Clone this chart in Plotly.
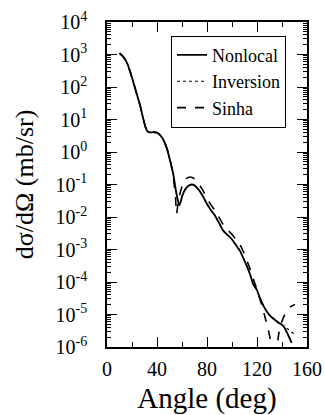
import plotly.graph_objects as go

# Nonlocal (solid)
ang_nl = [10, 13, 16, 19, 21.3, 24, 26.7, 29, 30.7, 32, 33.4, 35, 37, 40, 42.5, 45.3, 48, 50.4, 53, 55, 56.5, 57.9,
          59, 60.5, 62.5, 65, 67.7, 70, 73, 76.5, 80, 83, 86.4, 90, 93, 96, 99.7, 103, 106.4, 109, 111.7, 114.5, 117,
          119.7, 122, 124.5, 127.7, 130, 132.5, 135.7, 137.5, 139.7, 142, 145, 147.7]
val_nl = [1100, 850, 550, 260, 130, 58, 25, 10.5, 6.0, 4.5, 4.1, 4.0, 4.1, 3.9, 3.3, 2.3, 1.25, 0.56, 0.21, 0.07, 0.035, 0.023,
          0.03, 0.048, 0.07, 0.09, 0.1, 0.094, 0.072, 0.045, 0.025, 0.0165, 0.011, 0.0062, 0.0038, 0.0029, 0.0021, 0.0014,
          0.00091, 0.00055, 0.00032, 0.00017, 8.5e-5, 5.9e-5, 3.5e-5, 2.1e-5, 1.25e-5, 9.6e-6, 7.8e-6, 6.2e-6, 5.5e-6,
          4.9e-6, 3.9e-6, 2.3e-6, 1.35e-6]

# Inversion (dotted)
ang_inv = ang_nl[:50] + [137.5, 139.7, 142, 145, 147.5, 150]
val_inv = val_nl[:50] + [5.5e-6, 4.9e-6, 4.3e-6, 3.5e-6, 2.9e-6, 2.45e-6]

# Sinha (dashed)
ang_si = [10, 13, 16, 19, 21.3, 24, 26.7, 29, 30.7, 32, 33.4, 35, 37, 40, 42.5, 45.3, 48, 50.4, 52, 53.5, 54.8, 55.7,
          56.7, 58, 59.5, 61, 63, 66.4, 70, 73, 76.5, 80, 83, 86.4, 90, 93, 96, 99.7, 103, 106.4, 109, 111.7, 114.5,
          117, 119.7, 122, 124.5, 127, 129, 130.4, 131.7, 132.8, 134, 135.7, 137, 138.5, 140, 142, 144, 146.5, 150.4]
val_si = [1100, 850, 550, 260, 130, 58, 25, 10.5, 6.0, 4.5, 4.1, 4.0, 4.1, 3.9, 3.3, 2.3, 1.25, 0.58, 0.3, 0.12, 0.04, 0.0125,
          0.025, 0.045, 0.075, 0.11, 0.15, 0.17, 0.15, 0.11, 0.068, 0.038, 0.024, 0.016, 0.0092, 0.0058, 0.0042, 0.0030,
          0.0021, 0.0014, 0.00088, 0.00048, 0.00025, 0.000125, 6.3e-5, 3.3e-5, 1.6e-5, 6.8e-6, 3.4e-6, 1.9e-6, 6e-7, 1e-7,
          1e-7, 5e-7, 2e-6, 4.2e-6, 6.2e-6, 9.5e-6, 1.3e-5, 1.7e-5, 2.05e-5]

x_tickvals = [0, 40, 80, 120, 160]
x_ticktext = ["0", "40", "80", "120", "160"]
y_exponents = [-6, -5, -4, -3, -2, -1, 0, 1, 2, 3, 4]
y_tickvals = [10.0 ** e for e in y_exponents]
y_ticktext = ["10<sup>%d</sup>" % e for e in y_exponents]
y_minor = [m * 10.0 ** e for e in y_exponents[:-1] for m in range(2, 10)]

FONT = "Liberation Serif"

fig = go.Figure()
fig.add_trace(go.Scatter(x=ang_nl, y=val_nl, mode="lines", name="Nonlocal",
                         line=dict(color="black", width=1.8, shape="spline", smoothing=0.5)))
fig.add_trace(go.Scatter(x=ang_inv, y=val_inv, mode="lines", name="Inversion",
                         line=dict(color="black", width=1.2, dash="dot", shape="spline", smoothing=0.5)))
fig.add_trace(go.Scatter(x=ang_si, y=val_si, mode="lines", name="Sinha",
                         line=dict(color="black", width=1.6, dash="dash", shape="spline", smoothing=0.5)))

fig.update_layout(
    width=325, height=415,
    margin=dict(l=107, r=18, t=22, b=68),
    paper_bgcolor="white", plot_bgcolor="white",
    font=dict(family=FONT, color="black", size=18),
    showlegend=True,
    legend=dict(x=0.32, y=0.958, xanchor="left", yanchor="top",
                bordercolor="black", borderwidth=1, bgcolor="white",
                font=dict(family=FONT, size=18, color="black"),
                itemwidth=30, tracegroupgap=0),
)
fig.update_xaxes(
    range=[0, 160], showline=True, linecolor="black", linewidth=1.5, mirror="ticks",
    ticks="inside", ticklen=10, tickwidth=1, tickcolor="black",
    tickvals=x_tickvals, ticktext=x_ticktext, tickfont=dict(family=FONT, size=20, color="black"),
    minor=dict(ticks="inside", ticklen=5, tickcolor="black", dtick=20, tick0=0),
    showgrid=False, zeroline=False, ticklabelstandoff=3, automargin=False,
    title=dict(text="Angle (deg)", font=dict(family=FONT, size=29, color="black"), standoff=9),
)
fig.update_yaxes(
    type="log", range=[-6, 4], showline=True, linecolor="black", linewidth=1.5, mirror="ticks",
    ticks="inside", ticklen=10, tickwidth=1, tickcolor="black",
    tickvals=y_tickvals, ticktext=y_ticktext, tickfont=dict(family=FONT, size=20, color="black"),
    minor=dict(ticks="inside", ticklen=4, tickcolor="black", tickvals=y_minor),
    showgrid=False, zeroline=False, ticklabelstandoff=14, automargin=False,
    title=dict(text="dσ/dΩ (mb/sr)", font=dict(family=FONT, size=26, color="black"), standoff=14),
)

fig.write_html("out.html", config={"displayModeBar": False},
               post_script="document.body.style.margin='0';document.body.style.overflow='hidden';")
